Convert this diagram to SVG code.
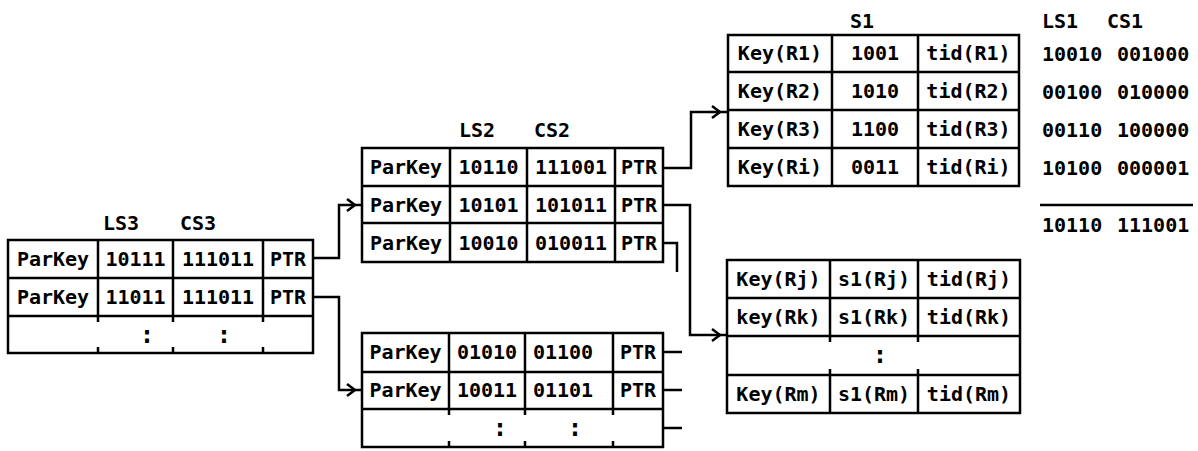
<svg xmlns="http://www.w3.org/2000/svg" width="1198" height="451" viewBox="0 0 1198 451">
<style>
.b{fill:#fff;stroke:#000;stroke-width:2.5}
.l{fill:none;stroke:#000;stroke-width:2.5}
.t{font-family:"DejaVu Sans Mono","Liberation Mono",monospace;font-weight:bold;font-size:20px;fill:#000;text-anchor:middle}
.s{text-anchor:start}
.c{font-size:24px}
</style>
<defs>
<path id="chev" d="M-8,-6 L0,0 L-8,6" fill="none" stroke="#000" stroke-width="2.5"/>
</defs>
<rect width="1198" height="451" fill="#fff"/>

<g id="connectors" class="l">
<path d="M313,258 H339 V205 H362"/>
<path d="M313,297 H339 V390 H362"/>
<path d="M663,168 H691 V112 H728"/>
<path d="M663,205 H690 V335 H727"/>
<path d="M663,243 H677 V272"/>
<path d="M663,352 H682"/>
<path d="M663,390 H682"/>
<path d="M663,428 H682"/>
<use href="#chev" x="355" y="205"/>
<use href="#chev" x="355" y="390"/>
<use href="#chev" x="720" y="112"/>
<use href="#chev" x="720" y="335"/>
</g>

<g id="table-ls3">
<rect class="b" x="8" y="240" width="305" height="113"/>
<path class="l" d="M8,278 H313 M8,316 H313 M98,240 V316 M173,240 V316 M263,240 V316 M98,347 V353 M173,347 V353 M263,347 V353 M98,316 V322 M173,316 V322 M263,316 V322"/>
<text class="t" x="121" y="230">LS3</text>
<text class="t" x="198" y="230">CS3</text>
<text class="t" x="53" y="266">ParKey</text>
<text class="t" x="135.5" y="266">10111</text>
<text class="t" x="218" y="266">111011</text>
<text class="t" x="288" y="266">PTR</text>
<text class="t" x="53" y="304">ParKey</text>
<text class="t" x="135.5" y="304">11011</text>
<text class="t" x="218" y="304">111011</text>
<text class="t" x="288" y="304">PTR</text>
<text class="t c" x="147" y="343">:</text>
<text class="t c" x="224" y="343">:</text>
</g>

<g id="table-ls2">
<rect class="b" x="362" y="148" width="301" height="114"/>
<path class="l" d="M362,186 H663 M362,223 H663 M450,148 V262 M527,148 V262 M615,148 V262"/>
<text class="t" x="477" y="137">LS2</text>
<text class="t" x="552" y="137">CS2</text>
<text class="t" x="406" y="174">ParKey</text>
<text class="t" x="488.5" y="174">10110</text>
<text class="t" x="571" y="174">111001</text>
<text class="t" x="639" y="174">PTR</text>
<text class="t" x="406" y="212">ParKey</text>
<text class="t" x="488.5" y="212">10101</text>
<text class="t" x="571" y="212">101011</text>
<text class="t" x="639" y="212">PTR</text>
<text class="t" x="406" y="250">ParKey</text>
<text class="t" x="488.5" y="250">10010</text>
<text class="t" x="571" y="250">010011</text>
<text class="t" x="639" y="250">PTR</text>
</g>

<g id="table-bottom">
<rect class="b" x="362" y="333" width="301" height="114"/>
<path class="l" d="M362,372 H663 M362,409 H663 M449,333 V409 M525,333 V409 M613,333 V409 M449,409 V415 M525,409 V415 M613,409 V415 M449,441 V447 M525,441 V447 M613,441 V447"/>
<text class="t" x="405.5" y="359">ParKey</text>
<text class="t" x="487" y="359">01010</text>
<text class="t" x="563" y="359">01100</text>
<text class="t" x="638" y="359">PTR</text>
<text class="t" x="405.5" y="397">ParKey</text>
<text class="t" x="487" y="397">10011</text>
<text class="t" x="563" y="397">01101</text>
<text class="t" x="638" y="397">PTR</text>
<text class="t c" x="500" y="436">:</text>
<text class="t c" x="575" y="436">:</text>
</g>

<g id="table-s1">
<rect class="b" x="728" y="35" width="291" height="151"/>
<path class="l" d="M728,72 H1019 M728,110 H1019 M728,148 H1019 M832,35 V186 M918,35 V186"/>
<text class="t" x="862" y="28">S1</text>
<text class="t" x="780" y="60">Key(R1)</text>
<text class="t" x="875" y="60">1001</text>
<text class="t" x="968.5" y="60">tid(R1)</text>
<text class="t" x="780" y="98">Key(R2)</text>
<text class="t" x="875" y="98">1010</text>
<text class="t" x="968.5" y="98">tid(R2)</text>
<text class="t" x="780" y="136">Key(R3)</text>
<text class="t" x="875" y="136">1100</text>
<text class="t" x="968.5" y="136">tid(R3)</text>
<text class="t" x="780" y="174">Key(Ri)</text>
<text class="t" x="875" y="174">0011</text>
<text class="t" x="968.5" y="174">tid(Ri)</text>
</g>

<g id="table-rj">
<rect class="b" x="727" y="260" width="293" height="153"/>
<path class="l" d="M727,298 H1020 M727,336 H1020 M727,375 H1020 M830,260 V336 M918,260 V336 M830,375 V413 M918,375 V413 M830,336 V342 M918,336 V342 M830,369 V375 M918,369 V375"/>
<text class="t" x="778.5" y="286">Key(Rj)</text>
<text class="t" x="874" y="286">s1(Rj)</text>
<text class="t" x="969" y="286">tid(Rj)</text>
<text class="t" x="778.5" y="324">key(Rk)</text>
<text class="t" x="874" y="324">s1(Rk)</text>
<text class="t" x="969" y="324">tid(Rk)</text>
<text class="t c" x="880" y="363">:</text>
<text class="t" x="778.5" y="401">Key(Rm)</text>
<text class="t" x="874" y="401">s1(Rm)</text>
<text class="t" x="969" y="401">tid(Rm)</text>
</g>

<g id="signatures">
<text class="t s" x="1042" y="28">LS1</text>
<text class="t s" x="1107" y="28">CS1</text>
<text class="t s" x="1042" y="61">10010</text>
<text class="t s" x="1117" y="61">001000</text>
<text class="t s" x="1042" y="99">00100</text>
<text class="t s" x="1117" y="99">010000</text>
<text class="t s" x="1042" y="137">00110</text>
<text class="t s" x="1117" y="137">100000</text>
<text class="t s" x="1042" y="175">10100</text>
<text class="t s" x="1117" y="175">000001</text>
<path class="l" d="M1040,205 H1193"/>
<text class="t s" x="1042" y="232">10110</text>
<text class="t s" x="1117" y="232">111001</text>
</g>
</svg>
